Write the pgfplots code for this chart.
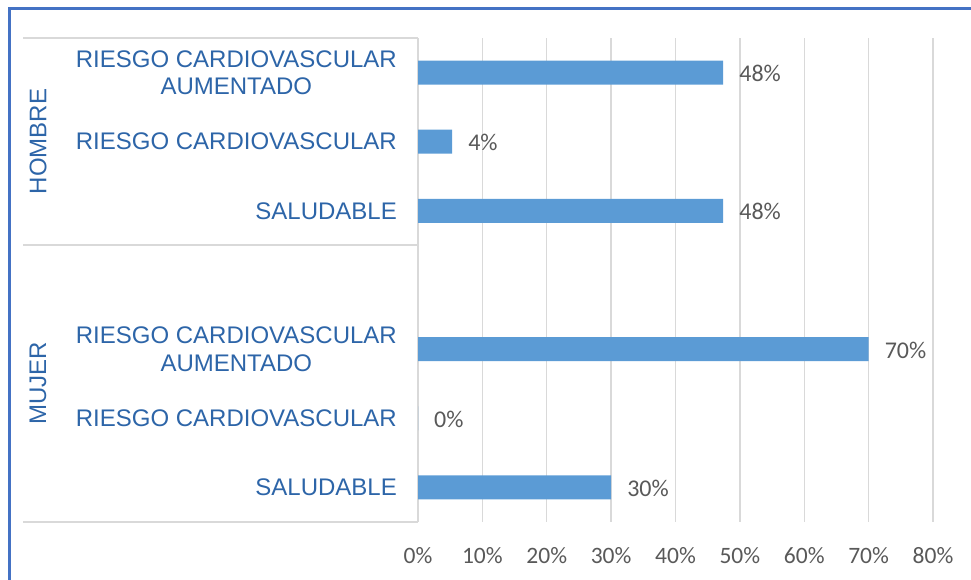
\documentclass[border=0pt]{standalone}
\usepackage{pgfplots}
\pgfplotsset{compat=1.18}
\usepackage{fontspec}
\setmainfont{Liberation Sans}
\newfontfamily\calibri{Carlito}
\definecolor{barblue}{HTML}{5B9BD5}
\definecolor{labblue}{HTML}{2D65A8}
\definecolor{gridcol}{HTML}{D9D9D9}
\definecolor{numgray}{HTML}{595959}
\definecolor{framecol}{HTML}{4472C4}
\begin{document}
\begin{tikzpicture}
\useasboundingbox (0,0) rectangle (971bp,580bp);
\begin{axis}[
  at={(418bp,58bp)}, anchor=south west,
  scale only axis, width=515bp, height=484bp,
  xmin=0, xmax=80, ymin=0.5, ymax=7.5, y dir=reverse,
  xtick={0,10,...,80},
  xticklabels={0\%,10\%,20\%,30\%,40\%,50\%,60\%,70\%,80\%},
  ytick={1,2,3,4,5,6,7},
  yticklabels={{RIESGO CARDIOVASCULAR\\AUMENTADO},{RIESGO CARDIOVASCULAR},{SALUDABLE},{},{RIESGO CARDIOVASCULAR\\AUMENTADO},{RIESGO CARDIOVASCULAR},{SALUDABLE}},
  major tick length=0pt,
  axis line style={draw=none},
  xmajorgrids, grid style={gridcol, line width=1.3bp},
  xticklabel style={font=\calibri\fontsize{23.5bp}{27bp}\selectfont, text=numgray, anchor=north, inner sep=0pt, yshift=-25bp},
  yticklabel style={font=\fontsize{24bp}{27.5bp}\selectfont, text=labblue, align=center, anchor=east, inner sep=0pt, xshift=-21bp},
  clip=false,
]
\addplot[xbar, fill=barblue, draw=none, bar width=24bp, bar shift=0pt,
  nodes near coords, point meta=explicit symbolic,
  nodes near coords style={font=\calibri\fontsize{24bp}{27bp}\selectfont, text=numgray, anchor=west, inner sep=0pt, xshift=16bp, yshift=-1bp}]
  table[x=v, y=pos, meta=lab] {
pos v lab
1 47.4 48\%
2 5.3 4\%
3 47.4 48\%
5 70 70\%
6 0 0\%
7 30 30\%
};
\end{axis}
\draw[gridcol, line width=1.3bp] (23bp,542bp) -- (418bp,542bp);
\draw[gridcol, line width=1.3bp] (23bp,335bp) -- (418bp,335bp);
\draw[gridcol, line width=1.3bp] (23bp,58bp) -- (418bp,58bp);
\node[rotate=90, text=labblue, font=\fontsize{24bp}{27.5bp}\selectfont, inner sep=0pt] at (38bp,438.5bp) {HOMBRE};
\node[rotate=90, text=labblue, font=\fontsize{24bp}{27.5bp}\selectfont, inner sep=0pt] at (38bp,196.5bp) {MUJER};
\draw[framecol, line width=2.2bp] (9.5bp,0) -- (9.5bp,571.5bp) -- (971bp,571.5bp);
\end{tikzpicture}
\end{document}
